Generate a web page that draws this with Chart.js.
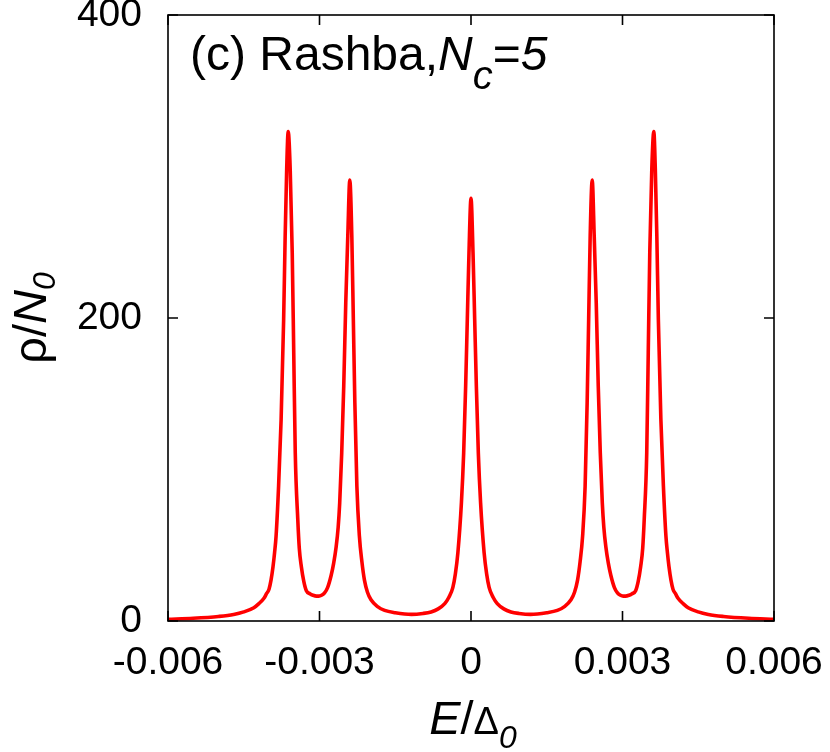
<!DOCTYPE html>
<html>
<head>
<meta charset="utf-8">
<title>Rashba Nc=5</title>
<script src="https://cdn.jsdelivr.net/npm/chart.js@4.4.1/dist/chart.umd.min.js"></script>
<style>
  html, body { margin: 0; padding: 0; background: #fff; }
  canvas { display: block; }
</style>
</head>
<body>
<canvas id="dos" width="830" height="752"></canvas>
<script>
// E / Delta_0
const energy = [
    -0.0060, -0.0055, -0.0050, -0.0047, -0.0045, -0.0043, -0.0042, -0.0041,
    -0.00405, -0.0040, -0.00396, -0.00392, -0.00389, -0.00386, -0.00381, -0.00376,
    -0.00371, -0.00368, -0.00365, -0.00362, -0.00358, -0.00354, -0.00351, -0.00348,
    -0.00343, -0.0034, -0.00336, -0.00331, -0.00326, -0.00319, -0.00313, -0.00306,
    -0.00300, -0.00295, -0.00290, -0.00284, -0.00277, -0.00272, -0.00267, -0.00263,
    -0.00260, -0.00256, -0.00252, -0.00248, -0.00244, -0.00240, -0.00236, -0.00233,
    -0.00230, -0.00226, -0.00221, -0.00216, -0.00211, -0.00205, -0.00198, -0.00185,
    -0.00171, -0.0015, -0.00118, -0.00095, -0.00079, -0.00065, -0.00052, -0.00044,
    -0.00036, -0.00031, -0.00026, -0.00019, -0.000145, -0.000106, -0.000073, -0.00004,
    0,
    0.00004, 0.000073, 0.000106, 0.000145, 0.00019, 0.00026, 0.00031, 0.00036,
    0.00044, 0.00052, 0.00065, 0.00079, 0.00095, 0.00118, 0.0015, 0.00171,
    0.00185, 0.00198, 0.00205, 0.00211, 0.00216, 0.00221, 0.00226, 0.00230,
    0.00233, 0.00236, 0.00240, 0.00244, 0.00248, 0.00252, 0.00256, 0.00260,
    0.00263, 0.00267, 0.00272, 0.00277, 0.00284, 0.00290, 0.00295, 0.00300,
    0.00306, 0.00313, 0.00319, 0.00326, 0.00331, 0.00336, 0.0034, 0.00343,
    0.00348, 0.00351, 0.00354, 0.00358, 0.00362, 0.00365, 0.00368, 0.00371,
    0.00376, 0.00381, 0.00386, 0.00389, 0.00392, 0.00396, 0.0040, 0.00405,
    0.0041, 0.0042, 0.0043, 0.0045, 0.0047, 0.0050, 0.0055, 0.0060
];

// rho / N_0
const dos = [
    1.1, 1.8, 3.0, 4.3, 6, 8.8, 11.5, 15,
    18, 21, 27, 36, 45, 56, 89, 133,
    199, 254, 298, 323, 298, 243, 177, 111,
    67, 48, 36, 26, 20, 18, 17, 16.4,
    16.5, 17.2, 18.5, 22, 30, 38, 49, 62,
    78, 111, 155, 210, 254, 291, 254, 199,
    144, 89, 56, 39, 27, 19, 14, 9.5,
    7, 5.5, 4.4, 5, 6, 8, 11.5, 15.5,
    22, 31, 45, 78, 111, 155, 199, 243,
    279,
    243, 199, 155, 111, 78, 45, 31, 22,
    15.5, 11.5, 8, 6, 5, 4.4, 5.5, 7,
    9.5, 14, 19, 27, 39, 56, 89, 144,
    199, 254, 291, 254, 210, 155, 111, 78,
    62, 49, 38, 30, 22, 18.5, 17.2, 16.5,
    16.4, 17, 18, 20, 26, 36, 48, 67,
    111, 177, 243, 298, 323, 298, 254, 199,
    133, 89, 56, 45, 36, 27, 21, 18,
    15, 11.5, 8.8, 6, 4.3, 3.0, 1.8, 1.1
];

const xTicks = [-0.006, -0.003, 0, 0.003, 0.006];
const xTickLabels = ["-0.006", "-0.003", "0", "0.003", "0.006"];
const yTicks = [0, 200, 400];
const yTickLabels = ["0", "200", "400"];

const FONT = "'Liberation Sans', Arial, Helvetica, sans-serif";

function drawRuns(ctx, runs, x, y) {
    let cx = x;
    runs.forEach(function (r) {
        ctx.font = r[1];
        ctx.fillText(r[0], cx, y + r[2]);
        cx += ctx.measureText(r[0]).width;
    });
}

function runsWidth(ctx, runs) {
    let w = 0;
    runs.forEach(function (r) {
        ctx.font = r[1];
        w += ctx.measureText(r[0]).width;
    });
    return w;
}

function noOverflow(s) {
    s.paddingTop = 0;
    s.paddingBottom = 0;
    s.paddingLeft = 0;
    s.paddingRight = 0;
}

const framePlugin = {
    id: "frame",
    afterDatasetsDraw(chart) {
        const ctx = chart.ctx;
        const a = chart.chartArea;
        const xs = chart.scales.x;
        const ys = chart.scales.y;
        const tick = 10;
        ctx.save();
        ctx.strokeStyle = "#000";
        ctx.lineWidth = 1.6;
        ctx.strokeRect(a.left, a.top, a.right - a.left, a.bottom - a.top);
        ctx.beginPath();
        xTicks.forEach(function (v) {
            const px = xs.getPixelForValue(v);
            ctx.moveTo(px, a.bottom);
            ctx.lineTo(px, a.bottom - tick);
            ctx.moveTo(px, a.top);
            ctx.lineTo(px, a.top + tick);
        });
        yTicks.forEach(function (v) {
            const py = ys.getPixelForValue(v);
            ctx.moveTo(a.left, py);
            ctx.lineTo(a.left + tick, py);
            ctx.moveTo(a.right, py);
            ctx.lineTo(a.right - tick, py);
        });
        ctx.stroke();

        ctx.fillStyle = "#000";
        ctx.textBaseline = "alphabetic";
        ctx.textAlign = "left";

        // panel label
        drawRuns(ctx, [
            ["(c) Rashba,", "48px " + FONT, 0],
            ["N", "italic 48px " + FONT, 0],
            ["c", "italic 40px " + FONT, 19],
            ["=", "48px " + FONT, 0],
            ["5", "italic 48px " + FONT, 0]
        ], 190, 70);

        // x axis title
        const xRuns = [
            ["E", "italic 47px " + FONT, 0],
            ["/", "47px " + FONT, 0],
            ["\u0394", "38px " + FONT, 0],
            ["0", "italic 32px " + FONT, 14]
        ];
        const xw = runsWidth(ctx, xRuns);
        drawRuns(ctx, xRuns, (a.left + a.right) / 2 - xw / 2 + 2, 734);

        // y axis title
        const yRuns = [
            ["\u03c1", "47px " + FONT, 0],
            ["/", "47px " + FONT, 0],
            ["N", "italic 47px " + FONT, 0],
            ["0", "italic 32px " + FONT, 9]
        ];
        const yw = runsWidth(ctx, yRuns);
        ctx.translate(46, (a.top + a.bottom) / 2);
        ctx.rotate(-Math.PI / 2);
        drawRuns(ctx, yRuns, -yw / 2, 0);
        ctx.restore();
    }
};

new Chart(document.getElementById("dos"), {
    type: "line",
    data: {
        datasets: [{
            data: energy.map(function (e, i) { return { x: e, y: dos[i] }; }),
            borderColor: "#ff0000",
            borderWidth: 3.6,
            pointRadius: 0,
            cubicInterpolationMode: "monotone",
            fill: false
        }]
    },
    options: {
        responsive: false,
        animation: false,
        devicePixelRatio: 1,
        layout: { padding: { left: 0, right: 56, top: 15, bottom: 0 } },
        plugins: { legend: { display: false }, tooltip: { enabled: false } },
        scales: {
            x: {
                type: "linear",
                min: -0.006,
                max: 0.006,
                afterBuildTicks: function (s) { s.ticks = xTicks.map(function (v) { return { value: v }; }); },
                afterFit: function (s) { s.height = 131; noOverflow(s); },
                grid: { display: false, drawTicks: false },
                border: { display: false },
                ticks: {
                    autoSkip: false,
                    maxRotation: 0,
                    padding: 19,
                    color: "#000",
                    font: { family: FONT, size: 39 },
                    callback: function (v, i) { return xTickLabels[i]; }
                }
            },
            y: {
                min: 0,
                max: 400,
                afterBuildTicks: function (s) { s.ticks = yTicks.map(function (v) { return { value: v }; }); },
                afterFit: function (s) { s.width = 168; noOverflow(s); },
                grid: { display: false, drawTicks: false },
                border: { display: false },
                ticks: {
                    padding: 26,
                    color: "#000",
                    font: { family: FONT, size: 39 },
                    callback: function (v, i) { return yTickLabels[i]; }
                }
            }
        }
    },
    plugins: [framePlugin]
});
</script>
</body>
</html>
